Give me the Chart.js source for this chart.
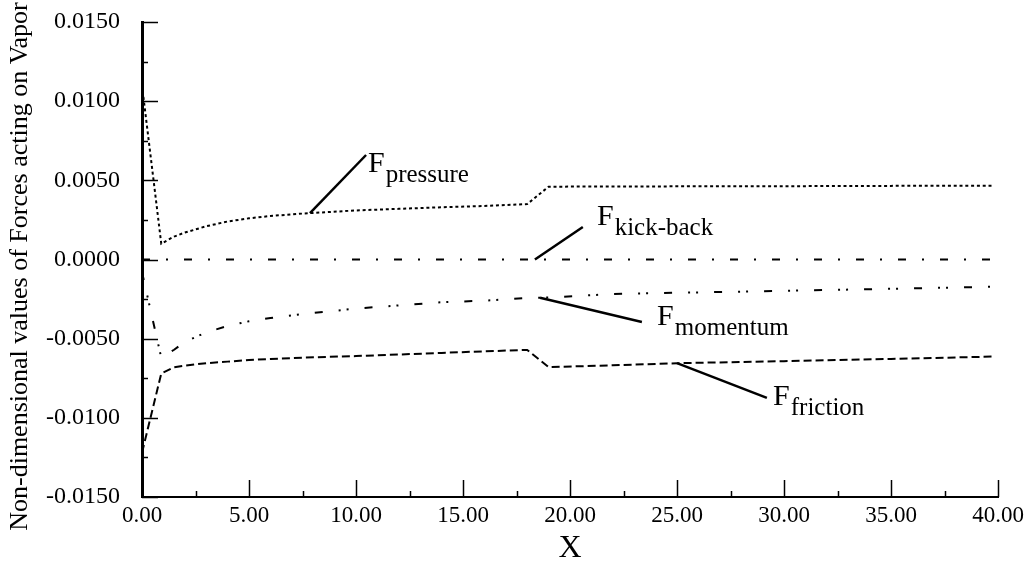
<!DOCTYPE html>
<html>
<head>
<meta charset="utf-8">
<script src="https://cdn.jsdelivr.net/npm/chart.js@4/dist/chart.umd.min.js"></script>
<style>
  html, body { margin: 0; padding: 0; background: #fff; }
  #wrap { width: 1031px; height: 568px; }
</style>
</head>
<body>
<div id="wrap"><canvas id="c" width="1031" height="568"></canvas></div>
<script>
// Axial position along the pipe
const xPos = [0, 0.9, 1.5, 2, 3, 4, 5, 6, 7.5, 10, 12, 14, 16, 18, 19, 22, 25, 30, 35, 39.8];

// Non-dimensional force components acting on the vapor
const fPressure = [0.0110, 0.0010, 0.00145, 0.0017, 0.0021, 0.0024, 0.0026, 0.00275, 0.0029, 0.0031,
                   0.0032, 0.0033, 0.00338, 0.0035, 0.0046, 0.00461, 0.00462, 0.00463, 0.00465, 0.00466];
const fKickBack = [0, 0, 0, 0, 0, 0, 0, 0, 0, 0, 0, 0, 0, 0, 0, 0, 0, 0, 0, 0];
const fMomentum = [-0.0008, -0.0062, -0.0057, -0.0052, -0.0046, -0.0042, -0.0039, -0.0037, -0.00345, -0.0031,
                   -0.0029, -0.0027, -0.0026, -0.00243, -0.0024, -0.00218, -0.0021, -0.00198, -0.00185, -0.00172];
const fFriction = [-0.0122, -0.0072, -0.0068, -0.0067, -0.00655, -0.00645, -0.00635, -0.00628, -0.0062, -0.0061,
                   -0.0060, -0.0059, -0.0058, -0.00571, -0.0068, -0.00668, -0.00655, -0.00642, -0.00628, -0.00613];

// Labelled tick values
const xMajor = [0, 5, 10, 15, 20, 25, 30, 35, 40];
const xTickLabels = ['0.00', '5.00', '10.00', '15.00', '20.00', '25.00', '30.00', '35.00', '40.00'];
const yMajor = [-0.015, -0.010, -0.005, 0, 0.005, 0.010, 0.015];
const yTickLabels = ['-0.0150', '-0.0100', '-0.0050', '0.0000', '0.0050', '0.0100', '0.0150'];

const yTitle = 'Non-dimensional values of Forces acting on Vapor';

const SERIF = '"Liberation Serif", "Times New Roman", Times, serif';

function labelFor(v, majors, labels) {
  for (let i = 0; i < majors.length; i++) {
    if (Math.abs(v - majors[i]) < 1e-9) return labels[i];
  }
  return '';
}

function pts(ys) { return xPos.map((x, i) => ({ x: x, y: ys[i] })); }

function interp(ys, x) {
  for (let i = 0; i < xPos.length - 1; i++) {
    if (x >= xPos[i] && x <= xPos[i + 1]) {
      const t = (x - xPos[i]) / (xPos[i + 1] - xPos[i]);
      return ys[i] + t * (ys[i + 1] - ys[i]);
    }
  }
  return ys[ys.length - 1];
}

// Callout labels with leader lines (data coordinates)
const callouts = [
  { main: 'F', sub: 'pressure',  series: fPressure, at: 7.85,  tip: [10.47, 0.0066],   text: [10.56, 0.00555] },
  { main: 'F', sub: 'kick-back', series: fKickBack, at: 18.36, tip: [20.6, 0.00205],   text: [21.26, 0.00218] },
  { main: 'F', sub: 'momentum',  series: fMomentum, at: 18.6,  tip: [23.36, -0.00395], text: [24.07, -0.00413] },
  { main: 'F', sub: 'friction',  series: fFriction, at: 25.0,  tip: [29.2, -0.00874],  text: [29.49, -0.00918] }
];

// Inward major/minor tick marks
const innerTicks = {
  id: 'innerTicks',
  afterDatasetsDraw(chart) {
    const { ctx, chartArea, scales } = chart;
    ctx.save();
    ctx.strokeStyle = '#000';
    ctx.lineWidth = 1.5;
    scales.y.ticks.forEach(t => {
      const py = Math.round(scales.y.getPixelForValue(t.value)) + 0.5;
      const major = labelFor(t.value, yMajor, yTickLabels) !== '';
      const len = major ? 16 : 6;
      ctx.beginPath();
      ctx.moveTo(chartArea.left, py);
      ctx.lineTo(chartArea.left + len, py);
      ctx.stroke();
    });
    scales.x.ticks.forEach(t => {
      const px = Math.round(scales.x.getPixelForValue(t.value)) + 0.5;
      const major = labelFor(t.value, xMajor, xTickLabels) !== '';
      const len = major ? 17 : 6;
      ctx.beginPath();
      ctx.moveTo(px, chartArea.bottom);
      ctx.lineTo(px, chartArea.bottom - len);
      ctx.stroke();
    });
    ctx.restore();
  }
};

// Rotated y-axis title, placed beside the axis
const yTitlePlugin = {
  id: 'yTitle',
  afterDraw(chart) {
    const { ctx, scales } = chart;
    const cy = (scales.y.top + scales.y.bottom) / 2 + 7;
    ctx.save();
    ctx.translate(20, cy);
    ctx.rotate(-Math.PI / 2);
    ctx.fillStyle = '#000';
    ctx.font = '26px ' + SERIF;
    ctx.textAlign = 'center';
    ctx.textBaseline = 'middle';
    ctx.fillText(yTitle, 0, 0);
    ctx.restore();
  }
};

const calloutPlugin = {
  id: 'callouts',
  afterDatasetsDraw(chart) {
    const { ctx, scales } = chart;
    const sx = scales.x, sy = scales.y;
    ctx.save();
    ctx.strokeStyle = '#000';
    ctx.fillStyle = '#000';
    ctx.lineWidth = 2.5;
    ctx.lineCap = 'butt';
    callouts.forEach(c => {
      const ax = sx.getPixelForValue(c.at);
      const ay = sy.getPixelForValue(interp(c.series, c.at));
      const tx = sx.getPixelForValue(c.tip[0]);
      const ty = sy.getPixelForValue(c.tip[1]);
      ctx.beginPath();
      ctx.moveTo(ax, ay);
      ctx.lineTo(tx, ty);
      ctx.stroke();
      const px = sx.getPixelForValue(c.text[0]);
      const py = sy.getPixelForValue(c.text[1]);
      ctx.textBaseline = 'alphabetic';
      ctx.textAlign = 'left';
      ctx.font = '30px ' + SERIF;
      ctx.fillText(c.main, px, py);
      const w = ctx.measureText(c.main).width;
      ctx.font = '25px ' + SERIF;
      ctx.fillText(c.sub, px + w + 1, py + 10);
    });
    ctx.restore();
  }
};

const lineStyle = { borderColor: '#000', borderWidth: 2, pointRadius: 0, tension: 0, fill: false };

new Chart(document.getElementById('c'), {
  type: 'line',
  data: {
    datasets: [
      Object.assign({ label: 'F pressure',  data: pts(fPressure), borderDash: [3, 2.8] }, lineStyle),
      Object.assign({ label: 'F kick-back', data: pts(fKickBack), borderDash: [8, 16, 2, 16] }, lineStyle),
      Object.assign({ label: 'F momentum',  data: pts(fMomentum), borderDash: [8, 16, 2, 6, 2, 16] }, lineStyle),
      Object.assign({ label: 'F friction',  data: pts(fFriction), borderDash: [8, 4] }, lineStyle)
    ]
  },
  options: {
    responsive: false,
    animation: false,
    devicePixelRatio: 1,
    layout: { padding: { top: 22, right: 33, left: 0, bottom: 0 } },
    plugins: { legend: { display: false }, tooltip: { enabled: false } },
    scales: {
      x: {
        type: 'linear',
        min: 0, max: 40,
        grid: { display: false },
        border: { display: true, color: '#000', width: 2 },
        ticks: {
          stepSize: 2.5,
          autoSkip: false,
          maxRotation: 0,
          padding: -3,
          color: '#000',
          font: { family: SERIF, size: 23 },
          callback: v => labelFor(v, xMajor, xTickLabels)
        },
        title: { display: true, text: 'X', color: '#000', font: { family: SERIF, size: 32 }, padding: { top: 0, bottom: 0 } },
        afterFit: s => { s.height = 71; s.paddingLeft = 0; s.paddingRight = 0; }
      },
      y: {
        type: 'linear',
        min: -0.015, max: 0.015,
        grid: { display: false },
        border: { display: true, color: '#000', width: 3 },
        ticks: {
          stepSize: 0.0025,
          autoSkip: false,
          padding: 14,
          color: '#000',
          font: { family: SERIF, size: 24 },
          callback: v => labelFor(v, yMajor, yTickLabels)
        },
        title: { display: false },
        afterFit: s => { s.width = 142; s.paddingTop = 0; s.paddingBottom = 0; }
      }
    }
  },
  plugins: [innerTicks, calloutPlugin, yTitlePlugin]
});
</script>
</body>
</html>
